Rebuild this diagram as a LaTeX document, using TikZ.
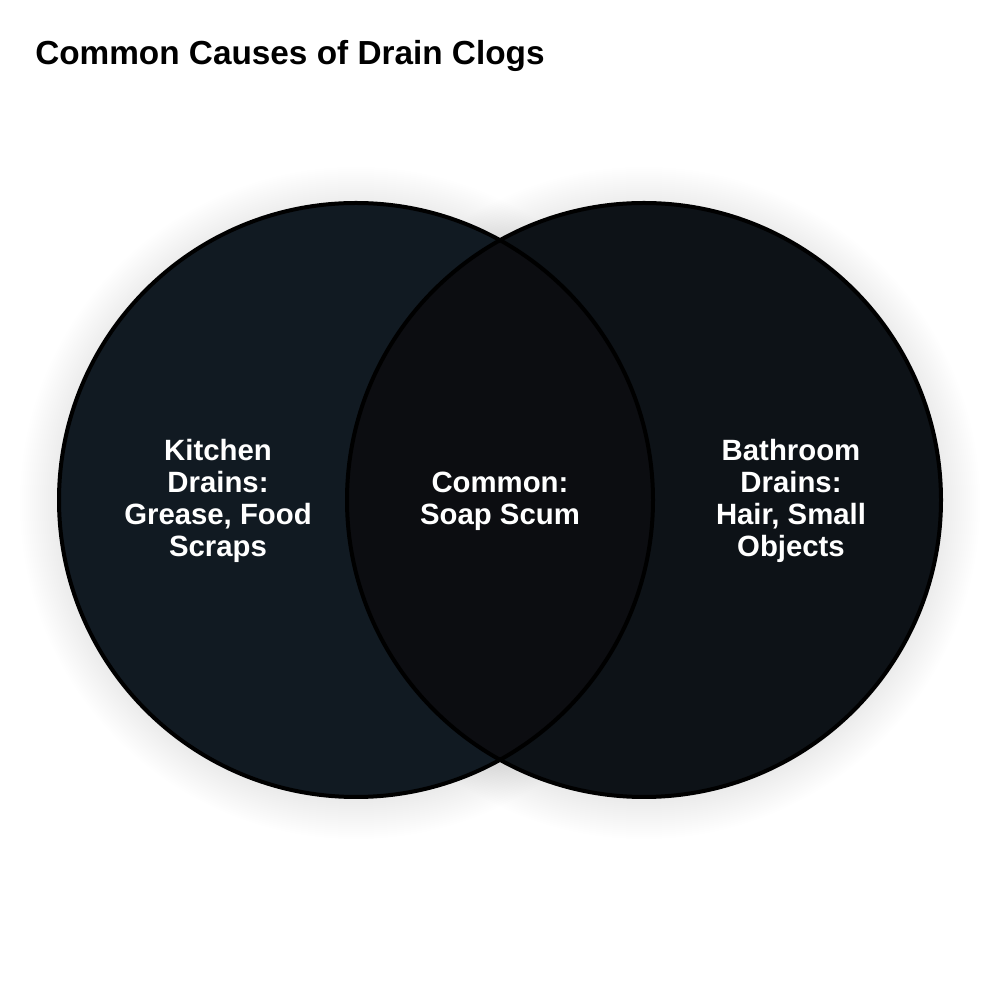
\documentclass[tikz,border=0pt]{standalone}
\usepackage{fontspec}
\setmainfont{Liberation Sans}
\definecolor{kitchenfill}{RGB}{17,26,34}
\definecolor{bathfill}{RGB}{13,18,23}
\definecolor{bothfill}{RGB}{12,13,17}
\tikzset{
  label text/.style={text=white, align=center, font=\bfseries\fontsize{22pt}{24pt}\selectfont},
  ring/.style={draw=black, line width=3pt}
}

\begin{document}
\begin{tikzpicture}[x=0.75pt, y=0.75pt]
\useasboundingbox (0,0) rectangle (1000,1000);
\fill[white] (0,0) rectangle (1000,1000);
% soft shadow round both circles
\foreach \r in {1,3,...,39} {
  \fill[black, opacity=0.004] (356,497) circle[radius=297+\r];
  \fill[black, opacity=0.004] (644,497) circle[radius=297+\r];
}
\fill[kitchenfill] (356,500) circle[radius=297];
\fill[bathfill] (644,500) circle[radius=297];
\begin{scope}
  \clip (356,500) circle[radius=297];
  \fill[bothfill] (644,500) circle[radius=297];
\end{scope}
\draw[ring] (356,500) circle[radius=297];
\draw[ring] (644,500) circle[radius=297];
\node[anchor=base west, inner sep=0pt, font=\bfseries\fontsize{25pt}{30pt}\selectfont] (title) at (35,935) {Common Causes of Drain Clogs};
\node[label text] (kitchen) at (218,499) {Kitchen\\Drains:\\Grease, Food\\Scraps};
\node[label text] (common) at (500,499) {Common:\\Soap Scum};
\node[label text] (bathroom) at (791,499) {Bathroom\\Drains:\\Hair, Small\\Objects};
\end{tikzpicture}
\end{document}
